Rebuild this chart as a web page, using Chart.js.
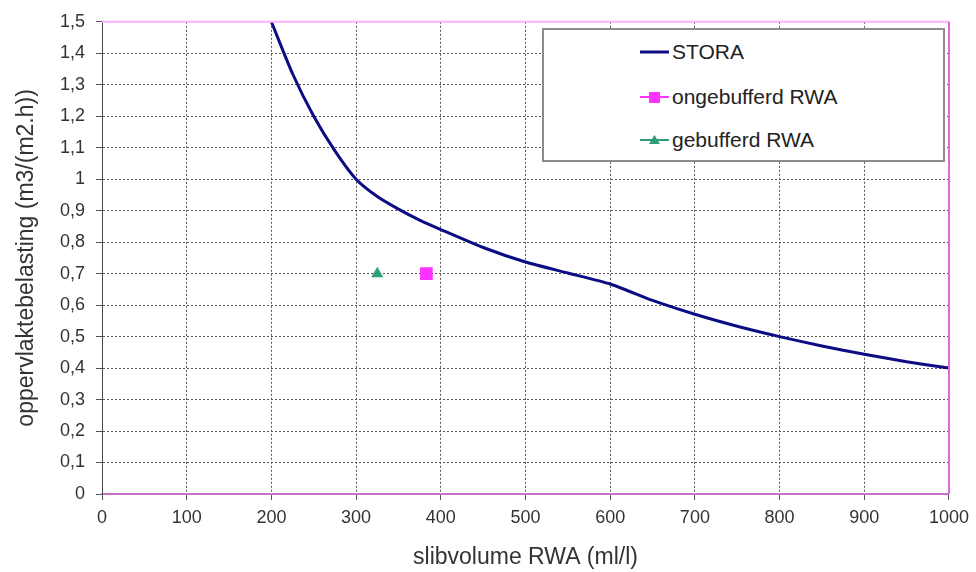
<!DOCTYPE html>
<html>
<head>
<meta charset="utf-8">
<script src="https://cdn.jsdelivr.net/npm/chart.js@4/dist/chart.umd.min.js"></script>
<style>
  body { margin: 0; background: #fff; }
  #wrap { position: relative; width: 976px; height: 572px; }
  #legend {
    position: absolute; left: 542px; top: 28px; width: 399px; height: 130px;
    border: 2px solid #8c8c8c; background: #fff;
    font-family: "Liberation Sans", Arial, sans-serif; font-size: 21px; color: #222;
  }
  .row { position: absolute; left: 96px; height: 24px; display: flex; align-items: center; }
  .row svg { margin-right: 3px; }
</style>
</head>
<body>
<div id="wrap">
  <canvas id="chart" width="976" height="572"></canvas>
  <div id="legend"></div>
</div>
<script>
// STORA curve
const storaX = [200, 225, 250, 275, 300, 325, 350, 375, 400, 450, 500, 550, 600, 650, 700, 750, 800, 850, 900, 950, 1000];
const storaY = [1.5, 1.335, 1.2, 1.09, 1.0, 0.945, 0.905, 0.87, 0.84, 0.783, 0.737, 0.702, 0.667, 0.615, 0.571, 0.533, 0.5, 0.47, 0.444, 0.42, 0.4];

// single measurement points
const ongebufferdX = [383];
const ongebufferdY = [0.7];
const gebufferdX = [325];
const gebufferdY = [0.7];

const seriesNames = ['STORA', 'ongebufferd RWA', 'gebufferd RWA'];
const xTickLabels = ['0', '100', '200', '300', '400', '500', '600', '700', '800', '900', '1000'];
const yTickLabels = ['0', '0,1', '0,2', '0,3', '0,4', '0,5', '0,6', '0,7', '0,8', '0,9', '1', '1,1', '1,2', '1,3', '1,4', '1,5'];

const navy = '#0c0c84';
const magenta = '#ff33ff';
const green = '#2e9e74';

function pts(xs, ys) {
    return xs.map((x, i) => ({x: x, y: ys[i]}));
}

// pink frame on top and right of the plot
const frame = {
    id: 'frame',
    afterDatasetsDraw(chart) {
        const a = chart.chartArea;
        const ctx = chart.ctx;
        ctx.save();
        ctx.lineWidth = 2;
        ctx.strokeStyle = '#ffb0ff';
        ctx.beginPath();
        ctx.moveTo(a.left, a.top);
        ctx.lineTo(a.right, a.top);
        ctx.stroke();
        ctx.strokeStyle = '#dd66dd';
        ctx.beginPath();
        ctx.moveTo(a.right, a.top);
        ctx.lineTo(a.right, a.bottom);
        ctx.stroke();
        ctx.restore();
    }
};

Chart.defaults.font.family = '"Liberation Sans", Arial, sans-serif';
Chart.defaults.color = '#333';

const chart = new Chart(document.getElementById('chart'), {
    type: 'scatter',
    data: {
        datasets: [
            {
                label: seriesNames[0],
                data: pts(storaX, storaY),
                showLine: true,
                borderColor: navy,
                backgroundColor: navy,
                borderWidth: 3,
                pointRadius: 0,
                tension: 0.2,
            },
            {
                label: seriesNames[1],
                data: pts(ongebufferdX, ongebufferdY),
                pointStyle: 'rect',
                pointRadius: 9,
                backgroundColor: magenta,
                borderColor: magenta,
                borderWidth: 0,
            },
            {
                label: seriesNames[2],
                data: pts(gebufferdX, gebufferdY),
                pointStyle: 'triangle',
                pointRadius: 7,
                backgroundColor: green,
                borderColor: green,
                borderWidth: 0,
            },
        ]
    },
    options: {
        responsive: false,
        animation: false,
        layout: { padding: { top: 18, right: 26, left: 0, bottom: 0 } },
        plugins: {
            legend: { display: false },
            tooltip: { enabled: false },
        },
        scales: {
            x: {
                type: 'linear',
                min: 0,
                max: 1000,
                afterFit: (s) => { s.height = 78; },
                ticks: {
                    stepSize: 100,
                    padding: 7,
                    font: { size: 18 },
                    callback: (v, i) => xTickLabels[i],
                },
                grid: { color: '#555', lineWidth: 1, tickLength: 6, tickColor: '#555', tickBorderDash: [] },
                border: { color: '#cc70cc', width: 2, dash: [2, 2] },
                title: {
                    display: true,
                    text: 'slibvolume RWA (ml/l)',
                    font: { size: 23 },
                    color: '#333',
                    padding: { top: 0, bottom: 1 },
                },
            },
            y: {
                min: 0,
                max: 1.5,
                afterFit: (s) => { s.width = 102; },
                ticks: {
                    stepSize: 0.1,
                    padding: 11,
                    font: { size: 18 },
                    callback: (v, i) => yTickLabels[i],
                },
                grid: { color: '#555', lineWidth: 1, tickLength: 6, tickColor: '#555', tickBorderDash: [] },
                border: { color: '#444', width: 1, dash: [2, 2] },
                title: {
                    display: true,
                    text: 'oppervlaktebelasting (m3/(m2.h))',
                    font: { size: 23 },
                    color: '#333',
                    padding: { top: 13, bottom: 0 },
                },
            }
        }
    },
    plugins: [frame]
});

// legend inside the plot, built from the datasets
const legend = document.getElementById('legend');
const rowTops = [10, 55, 98];
chart.data.datasets.forEach((ds, i) => {
    const row = document.createElement('div');
    row.className = 'row';
    row.style.top = rowTops[i] + 'px';
    let marker = '';
    if (ds.pointStyle === 'rect') {
        marker = '<rect x="9" y="5" width="11" height="11" fill="' + ds.backgroundColor + '"/>';
    } else if (ds.pointStyle === 'triangle') {
        marker = '<polygon points="14.5,5 20,14 9,14" fill="' + ds.backgroundColor + '"/>';
    }
    row.innerHTML = '<svg width="29" height="20"><line x1="0" y1="10" x2="29" y2="10" stroke="' +
        (ds.showLine ? ds.borderColor : ds.backgroundColor) + '" stroke-width="' + (ds.showLine ? 3 : 2) + '"/>' +
        marker + '</svg><span>' + ds.label + '</span>';
    legend.appendChild(row);
});
</script>
</body>
</html>
